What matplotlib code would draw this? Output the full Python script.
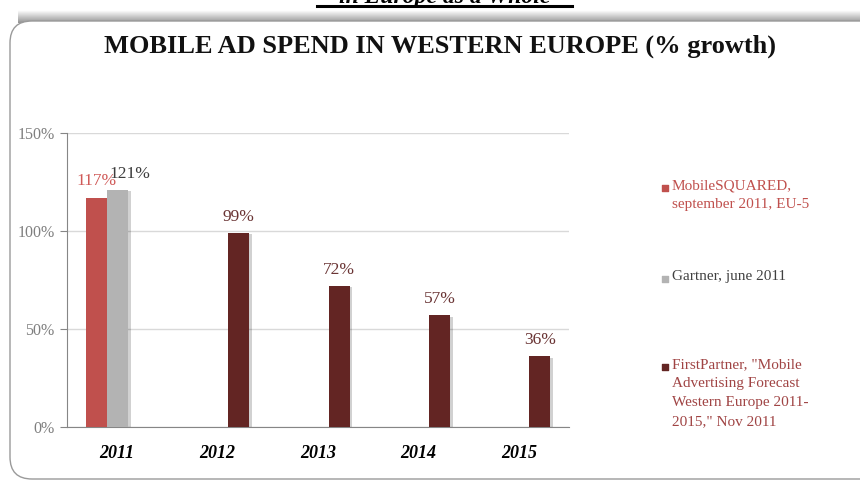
import numpy as np
import matplotlib
matplotlib.use('Agg')
import matplotlib.pyplot as plt
from matplotlib.patches import FancyBboxPatch
import matplotlib.patheffects as pe

# Datos: crecimiento del gasto en publicidad movil (%)
years = ['2011', '2012', '2013', '2014', '2015']
mobilesquared = [117, None, None, None, None]
gartner = [121, None, None, None, None]
firstpartner = [None, 99, 72, 57, 36]

series_names = ['MobileSQUARED,\nseptember 2011, EU-5',
                'Gartner, june 2011',
                'FirstPartner, "Mobile\nAdvertising Forecast\nWestern Europe 2011-\n2015," Nov 2011']
bar_colors = ['#C0504D', '#B3B3B3', '#632523']
value_colors = ['#D05A58', '#3C3C3C', '#6A3434']
legend_text_colors = ['#C0504D', '#404040', '#A04444']

serif = 'Liberation Serif'

fig = plt.figure(figsize=(8.6, 4.8), dpi=100)

# fondo: caja redondeada con sombra arriba (coordenadas en pixeles)
bg = fig.add_axes([0, 0, 1, 1], zorder=-1)
bg.set_xlim(0, 860)
bg.set_ylim(480, 0)
bg.axis('off')
grad = np.linspace(1.0, 0.58, 20).reshape(-1, 1)
bg.imshow(grad, cmap='gray', vmin=0, vmax=1, aspect='auto',
          extent=[18, 880, 23, 10], zorder=1)
box = FancyBboxPatch((10, 21), 880, 458, boxstyle='round,pad=0,rounding_size=22',
                     facecolor='white', edgecolor='#9A9A9A', linewidth=1.0, zorder=2)
bg.add_patch(box)

# titulo de la diapositiva (cortado arriba)
bg.text(445, 2.5, 'in Europe as a Whole', ha='center', va='baseline',
        fontsize=17, fontweight='bold', style='italic', family=serif, color='black', zorder=3)
bg.plot([317, 572], [5.5, 5.5], color='black', lw=2.2, zorder=3)

bg.text(440, 46, 'MOBILE AD SPEND IN WESTERN EUROPE (% growth)', ha='center', va='center',
        fontsize=19, fontweight='bold', family=serif, color='#111111', zorder=3)

# leyenda manual a la derecha
legend_tops = [179, 270, 358]
for name, col, tcol, top in zip(series_names, bar_colors, legend_text_colors, legend_tops):
    bg.scatter([665], [top + 9], marker='s', s=24, color=col, zorder=3)
    bg.text(672, top, name, ha='left', va='top', fontsize=11, family=serif,
            color=tcol, linespacing=1.62, zorder=3)

# grafico de barras
ax = fig.add_axes([67 / 860, 1 - 427 / 480, (569 - 67) / 860, (427 - 133) / 480])
ax.set_facecolor('none')
x = np.arange(len(years))
w = 0.21
shadow = [pe.SimplePatchShadow(offset=(2, -1), shadow_rgbFace='black', alpha=0.18), pe.Normal()]

all_series = [mobilesquared, gartner, firstpartner]
offsets = [-w, 0, w]
label_dx = [0, 9, 0]
for vals, off, col, vcol, dx in zip(all_series, offsets, bar_colors, value_colors, label_dx):
    for i, v in enumerate(vals):
        if v is None:
            continue
        b = ax.bar(x[i] + off, v, width=w, color=col, zorder=3)
        for p in b:
            p.set_path_effects(shadow)
        ax.annotate('%d%%' % v, (x[i] + off, v), xytext=(dx, 6), textcoords='offset points',
                    ha='center', va='bottom', fontsize=12.5, family=serif, color=vcol, zorder=4)

ax.set_xlim(-0.5, 4.5)
ax.set_ylim(0, 150)
ax.set_yticks([0, 50, 100, 150])
ax.set_yticklabels(['0%', '50%', '100%', '150%'])
ax.set_xticks(x)
ax.set_xticklabels(years)
ax.yaxis.grid(True, color='#D9D9D9', lw=1, zorder=0)
ax.set_axisbelow(True)
for s in ['top', 'right']:
    ax.spines[s].set_visible(False)
ax.spines['left'].set_color('#868686')
ax.spines['bottom'].set_color('#868686')
ax.tick_params(axis='y', length=5, color='#868686', labelcolor='#7F7F7F', labelsize=11.5, pad=4)
ax.tick_params(axis='x', length=0, pad=13, labelsize=13)
for t in ax.get_yticklabels():
    t.set_family(serif)
for t in ax.get_xticklabels():
    t.set_family(serif)
    t.set_fontweight('bold')
    t.set_style('italic')

fig.savefig('out.png', dpi=100)
